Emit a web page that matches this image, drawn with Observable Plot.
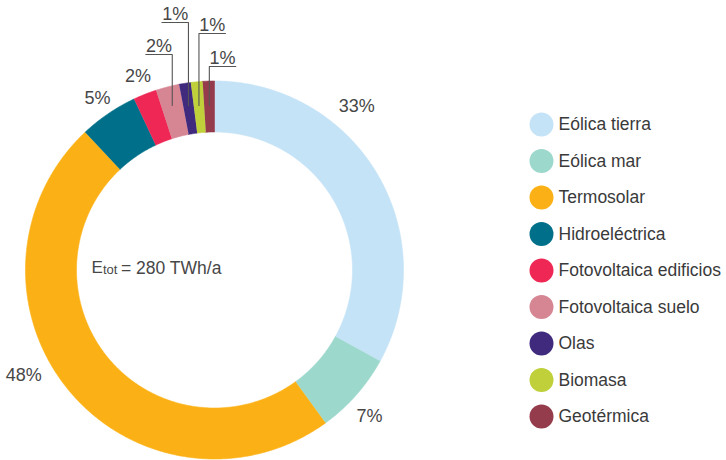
<!DOCTYPE html>
<html>
<head>
<meta charset="utf-8">
<script src="https://cdn.jsdelivr.net/npm/d3@7"></script>
<script src="https://cdn.jsdelivr.net/npm/@observablehq/plot@0.6"></script>
<style>
  html, body { margin: 0; padding: 0; background: #fff; }
  #chart { width: 726px; height: 460px; }
</style>
</head>
<body>
<div id="chart"></div>
<script>
// ---- data ----
const categories = ["Eólica tierra", "Eólica mar", "Termosolar", "Hidroeléctrica",
  "Fotovoltaica edificios", "Fotovoltaica suelo", "Olas", "Biomasa", "Geotérmica"];
const shares = [33, 7, 48, 5, 2, 2, 1, 1, 1];
const colors = ["#c5e3f7", "#9dd8cd", "#fbb116", "#00708a", "#ee2755",
  "#d68593", "#3f2a7e", "#bfd03a", "#943b4c"];
const pctLabels = ["33%", "7%", "48%", "5%", "2%", "2%", "1%", "1%", "1%"];
const totalParts = ["E", "tot", "= 280 TWh/a"];

// ---- layout ----
const cx = 214, cy = 269.5, R = 189, r0 = 138;
const total = d3.sum(shares);
const deg = Math.PI / 180;
let acc = 0;
const slices = shares.map((v, i) => {
  const a0 = acc / total * 2 * Math.PI;
  acc += v;
  const a1 = acc / total * 2 * Math.PI;
  return {cat: categories[i], a0, a1, mid: (a0 + a1) / 2, i};
});
const pt = (a, rad) => ({x: cx + rad * Math.sin(a), y: cy - rad * Math.cos(a)});

const ring = [];
for (const s of slices) {
  const n = Math.max(4, Math.ceil((s.a1 - s.a0) / (0.4 * deg)));
  for (let k = 0; k <= n; k++) ring.push({cat: s.cat, ...pt(s.a0 + (s.a1 - s.a0) * k / n, R)});
  for (let k = n; k >= 0; k--) ring.push({cat: s.cat, ...pt(s.a0 + (s.a1 - s.a0) * k / n, r0)});
}

// direct labels: big slices hand-placed angles, small at mid angle
const labelAngle = {0: 41 * deg, 1: 133.3 * deg, 2: 241 * deg};
const labelRad = {0: 217, 1: 213, 2: 218};
const direct = [0, 1, 2, 3, 4].map(i => {
  const a = labelAngle[i] ?? slices[i].mid;
  const rr = labelRad[i] ?? 208;
  return {text: pctLabels[i], ...pt(a, rr)};
});

// callouts for the thin slices
const callout = {5: {h: 54, dir: -1}, 6: {h: 22, dir: -1}, 7: {h: 33, dir: 1}, 8: {h: 66, dir: 1}};
const leaderPts = [], calloutText = [];
for (const [k, c] of Object.entries(callout)) {
  const s = slices[+k];
  const yStart = 105;
  const xv = cx + (cy - yStart) * Math.tan(s.mid);
  const xe = xv + c.dir * 26.5;
  leaderPts.push({id: k, x: xv, y: yStart}, {id: k, x: xv, y: c.h}, {id: k, x: xe, y: c.h});
  calloutText.push({text: pctLabels[+k], x: (xv + xe) / 2, y: c.h - 8.5});
}

const legendY = i => 124 + i * 36.5;
const font = "Liberation Sans, Arial, Helvetica, sans-serif";
const txt = "#474747";

const chart = Plot.plot({
  width: 726,
  height: 460,
  margin: 0,
  x: {domain: [0, 726], range: [0, 726], axis: null},
  y: {domain: [0, 460], range: [0, 460], axis: null},
  color: {domain: categories, range: colors},
  style: {fontFamily: font, background: "#fff", overflow: "visible"},
  marks: [
    Plot.line(ring, {x: "x", y: "y", z: "cat", fill: "cat", stroke: "cat", strokeWidth: 0.6}),
    Plot.line(leaderPts, {x: "x", y: "y", z: "id", stroke: "#555", strokeWidth: 1.1}),
    Plot.text(direct, {x: "x", y: "y", text: "text", fontSize: 18, fill: txt}),
    Plot.text(calloutText, {x: "x", y: "y", text: "text", fontSize: 18, fill: txt}),
    Plot.text([totalParts[0]], {x: () => 91, y: () => 267.5, text: d => d, textAnchor: "start", fontSize: 17, fill: txt}),
    Plot.text([totalParts[1]], {x: () => 102.5, y: () => 269.2, text: d => d, textAnchor: "start", fontSize: 13, fill: txt}),
    Plot.text([totalParts[2]], {x: () => 120.5, y: () => 267.5, text: d => d, textAnchor: "start", fontSize: 17.5, fill: txt}),
    Plot.dot(categories, {x: () => 541, y: (d, i) => legendY(i), r: 12, fill: d => d, stroke: null}),
    Plot.text(categories, {x: () => 558, y: (d, i) => legendY(i), text: d => d, textAnchor: "start", fontSize: 17.5, fill: "#3a3a3a"})
  ]
});
document.getElementById("chart").append(chart);
</script>
</body>
</html>
